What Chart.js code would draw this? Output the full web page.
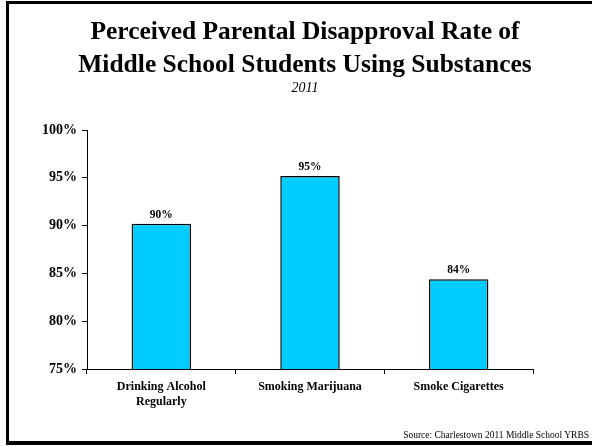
<!DOCTYPE html>
<html>
<head>
<meta charset="utf-8">
<script src="https://cdn.jsdelivr.net/npm/chart.js@4"></script>
<style>
  html, body { margin: 0; padding: 0; background: #fff; }
  #wrap { position: relative; width: 592px; height: 447px; overflow: hidden; }
  #frame {
    position: absolute; left: 6px; top: 1px; width: 620px; height: 437px;
    border-top: 3px solid #000; border-left: 3px solid #000; border-bottom: 4px solid #000;
  }
  #source {
    position: absolute; right: 3px; top: 430px;
    font: 9.5px "Liberation Serif", serif; color: #000; white-space: nowrap;
  }
  canvas { position: absolute; left: 0; top: 0; }
</style>
</head>
<body>
<div id="wrap">
  <div id="frame"></div>
  <canvas id="chart" width="592" height="447"></canvas>
  <div id="source">Source: Charlestown 2011 Middle School YRBS</div>
</div>
<script>
// chart data
const categories = [["Drinking Alcohol", "Regularly"], "Smoking Marijuana", "Smoke Cigarettes"];
const rates = [90.2, 95.2, 84.4];
const yTicks = [75, 80, 85, 90, 95, 100];

const SERIF = '"Liberation Serif", "Times New Roman", serif';

// value labels above each bar
const barLabels = {
  id: "barLabels",
  afterDatasetsDraw(chart) {
    const ctx = chart.ctx;
    const meta = chart.getDatasetMeta(0);
    ctx.save();
    ctx.font = "bold 11.5px " + SERIF;
    ctx.fillStyle = "#000";
    ctx.textAlign = "center";
    ctx.textBaseline = "bottom";
    meta.data.forEach((bar, i) => {
      ctx.fillText(Math.round(rates[i]) + "%", bar.x, bar.y - 3);
    });
    ctx.restore();
  }
};

// the headings sit a bit right of the canvas centre in the original
const shiftHeadings = {
  id: "shiftHeadings",
  afterLayout(chart) {
    chart.boxes.forEach(b => {
      if (b.fullSize && b.position === "top" && !b.axis) {
        b.left = 18;
        b.right = chart.width;
      }
    });
  }
};

new Chart(document.getElementById("chart"), {
  type: "bar",
  data: {
    labels: categories,
    datasets: [{
      data: rates,
      backgroundColor: "#00CCFF",
      borderColor: "#000",
      borderWidth: 1.5,
      barPercentage: 0.4,
      categoryPercentage: 1
    }]
  },
  options: {
    responsive: false,
    animation: false,
    layout: { padding: { left: 0, right: 59, top: 0, bottom: 0 } },
    plugins: {
      legend: { display: false },
      tooltip: { enabled: false },
      title: {
        display: true,
        text: ["Perceived Parental Disapproval Rate of", "Middle School Students Using Substances"],
        color: "#000",
        font: { family: SERIF, size: 25.5, weight: "bold", lineHeight: 1.3 },
        padding: { top: 16, bottom: -2 }
      },
      subtitle: {
        display: true,
        text: "2011",
        color: "#000",
        font: { family: SERIF, size: 14, style: "italic", lineHeight: 1.2 },
        padding: { top: 0, bottom: 33 }
      }
    },
    scales: {
      x: {
        afterFit(scale) { scale.height = 78; },
        grid: { drawOnChartArea: false, offset: true, tickLength: 5, color: "#000" },
        border: { color: "#000", width: 1 },
        ticks: {
          color: "#000",
          padding: 5,
          maxRotation: 0,
          font: { family: SERIF, size: 12, weight: "bold", lineHeight: 1.25 }
        }
      },
      y: {
        min: yTicks[0],
        max: yTicks[yTicks.length - 1],
        afterFit(scale) { scale.width = 87; },
        afterBuildTicks(scale) { scale.ticks = yTicks.map(v => ({ value: v })); },
        grid: { drawOnChartArea: false, tickLength: 5, color: "#000" },
        border: { color: "#000", width: 1 },
        ticks: {
          color: "#000",
          padding: 5,
          font: { family: SERIF, size: 14, weight: "bold" },
          callback: v => v + "%"
        }
      }
    }
  },
  plugins: [barLabels, shiftHeadings]
});
</script>
</body>
</html>
